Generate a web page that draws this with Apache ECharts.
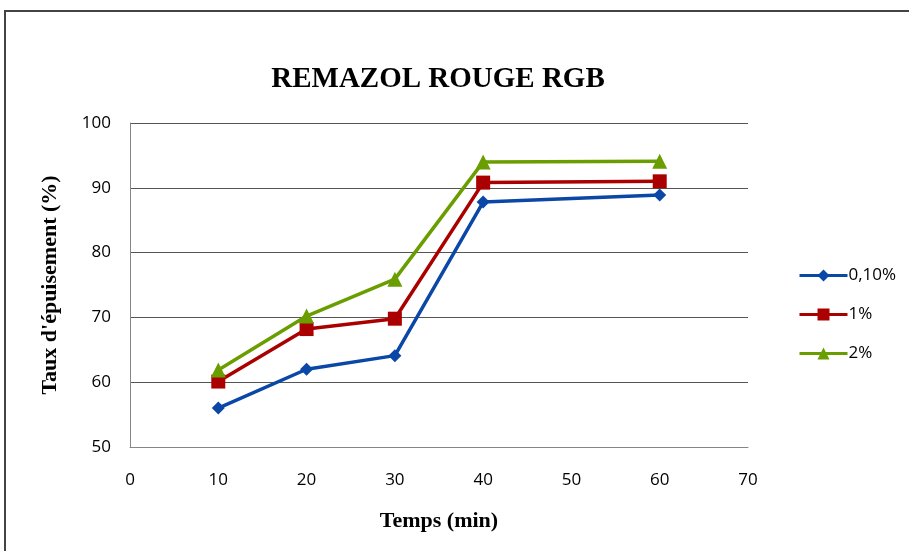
<!DOCTYPE html>
<html>
<head>
<meta charset="utf-8">
<script src="https://cdn.jsdelivr.net/npm/echarts@6/dist/echarts.min.js"></script>
<style>html,body{margin:0;padding:0;background:#fff;}#c{width:909px;height:551px;}</style>
</head>
<body>
<div id="c"></div>
<script>
const title = 'REMAZOL ROUGE RGB';
const xName = 'Temps (min)';
const yName = "Taux d'épuisement (%)";
const times = [10, 20, 30, 40, 60];
const seriesNames = ['0,10%', '1%', '2%'];
const s010 = [56, 62, 64.1, 87.8, 88.9];
const s1 = [60.1, 68.2, 69.8, 90.8, 91.0];
const s2 = [61.9, 70.2, 75.9, 94.0, 94.1];

const colors = ['#0a47a6', '#aa0000', '#6a9e00'];
const symbols = ['diamond', 'rect', 'triangle'];
const sizes = [13, 14, 15];
const values = [s010, s1, s2];

const chart = echarts.init(document.getElementById('c'));
chart.setOption({
  animation: false,
  graphic: [{
    type: 'rect', shape: {x: 5, y: 11, width: 920, height: 560},
    style: {fill: 'none', stroke: '#444', lineWidth: 2}, silent: true
  }],
  title: {
    text: title, left: 433, top: 60, textAlign: 'center',
    textStyle: {fontFamily: 'Liberation Serif', fontWeight: 'bold', fontSize: 29, color: '#000'}
  },
  grid: {left: 130, top: 123, width: 618, height: 324, containLabel: false},
  legend: {
    orient: 'vertical', left: 793, top: 262, itemWidth: 48, itemHeight: 15, itemGap: 22,
    textStyle: {fontFamily: 'Open Sans', fontSize: 17, color: '#000', padding: [0, 0, 0, -4]},
    lineStyle: {width: 3},
    data: seriesNames
  },
  xAxis: {
    type: 'value', min: 0, max: 70, interval: 10,
    name: xName, nameLocation: 'middle', nameGap: 63,
    nameTextStyle: {fontFamily: 'Liberation Serif', fontWeight: 'bold', fontSize: 22, color: '#000'},
    axisLine: {show: true, lineStyle: {color: '#868686', width: 1}},
    axisTick: {show: false},
    axisLabel: {fontFamily: 'Open Sans', fontSize: 17, color: '#000', margin: 25},
    splitLine: {show: false}
  },
  yAxis: {
    type: 'value', min: 50, max: 100, interval: 10,
    name: yName, nameLocation: 'middle', nameGap: 69, nameRotate: 90,
    nameTextStyle: {fontFamily: 'Liberation Serif', fontWeight: 'bold', fontSize: 22, color: '#000'},
    axisLine: {show: true, lineStyle: {color: '#868686', width: 1}},
    axisTick: {show: false},
    axisLabel: {fontFamily: 'Open Sans', fontSize: 17, color: '#000', margin: 19},
    splitLine: {show: true, lineStyle: {color: '#555', width: 1}}
  },
  series: seriesNames.map((n, i) => ({
    name: n, type: 'line',
    data: times.map((t, j) => [t, values[i][j]]),
    symbol: symbols[i], symbolSize: sizes[i],
    lineStyle: {color: colors[i], width: 3.5},
    itemStyle: {color: colors[i]},
    z: 3 + i
  }))
});
</script>
</body>
</html>
